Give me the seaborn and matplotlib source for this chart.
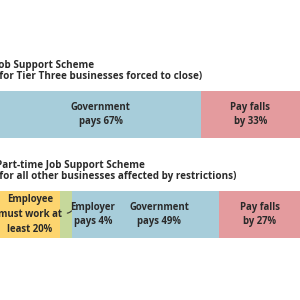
import matplotlib
matplotlib.use("Agg")
import matplotlib.pyplot as plt
import seaborn as sns
import pandas as pd
import numpy as np

sns.set_theme(style="white")
plt.rcParams['font.family'] = ['Open Sans', 'DejaVu Sans']

# Data
schemes = ["Job Support Scheme", "Part-time Job Support Scheme"]
subtitles = ["(for Tier Three businesses forced to close)",
             "(for all other businesses affected by restrictions)"]
segments = ["Employee works", "Employer", "Government", "Pay falls"]
top_values = [0, 0, 67, 33]
bottom_values = [20, 4, 49, 27]
seg_colors = ["#FDD56F", "#C6D89B", "#A7CDDA", "#E49B9E"]
top_labels = [None, None, "Government\npays 67%", "Pay falls\nby 33%"]
bottom_labels = ["Employee\nmust work at\nleast 20%", "Employer\npays 4%", "Government\npays 49%", "Pay falls\nby 27%"]

df = pd.DataFrame({
    "scheme": np.repeat(schemes, len(segments)),
    "segment": segments * 2,
    "value": top_values + bottom_values,
})
df["end"] = df.groupby("scheme", sort=False)["value"].cumsum()
df["start"] = df["end"] - df["value"]

fig = plt.figure(figsize=(3, 3), dpi=100)
ax = fig.add_axes([0, 0, 1, 1])

# stacked bars: draw cumulative totals from the last segment back to the first
for seg, col in reversed(list(zip(segments, seg_colors))):
    sub = df[df["segment"] == seg]
    sns.barplot(data=sub, x="end", y="scheme", order=schemes, color=col,
                orient="h", width=0.47, ax=ax, saturation=1, linewidth=0)

ax.set_xlim(0, 100)
ax.set_ylim(1.855, -1.145)
ax.axis("off")

txt = dict(fontsize=7.1, fontweight="bold", color="#2a2a2a")

for i, (t, s) in enumerate(zip(schemes, subtitles)):
    ax.text(-1.5, i - 0.488, t, ha="left", va="center", **txt)
    ax.text(-1.5, i - 0.378, s, ha="left", va="center", **txt)

label_sets = [top_labels, bottom_labels]
for i, labels in enumerate(label_sets):
    sub = df[df["scheme"] == schemes[i]].reset_index(drop=True)
    for j, lab in enumerate(labels):
        if lab is None:
            continue
        cx = (sub.loc[j, "start"] + sub.loc[j, "end"]) / 2
        if i == 1 and j == 1:
            cx = sub.loc[j, "end"] + 7
        if i == 1 and j == 2:
            cx = 53
        ax.text(cx, i, lab, ha="center", va="center", linespacing=1.45,
                fontsize=6.9, fontweight="bold", color="#2a2a2a")

e = df[(df["scheme"] == schemes[1]) & (df["segment"] == "Employer")].iloc[0]
ax.annotate("", xy=(e["start"] + 1.5, 1 - 0.015), xytext=(e["end"] + 0.3, 1 - 0.06),
            arrowprops=dict(arrowstyle="-", color="#333333", lw=0.8,
                            connectionstyle="arc3,rad=-0.4"))

fig.savefig("out.png", dpi=100)
